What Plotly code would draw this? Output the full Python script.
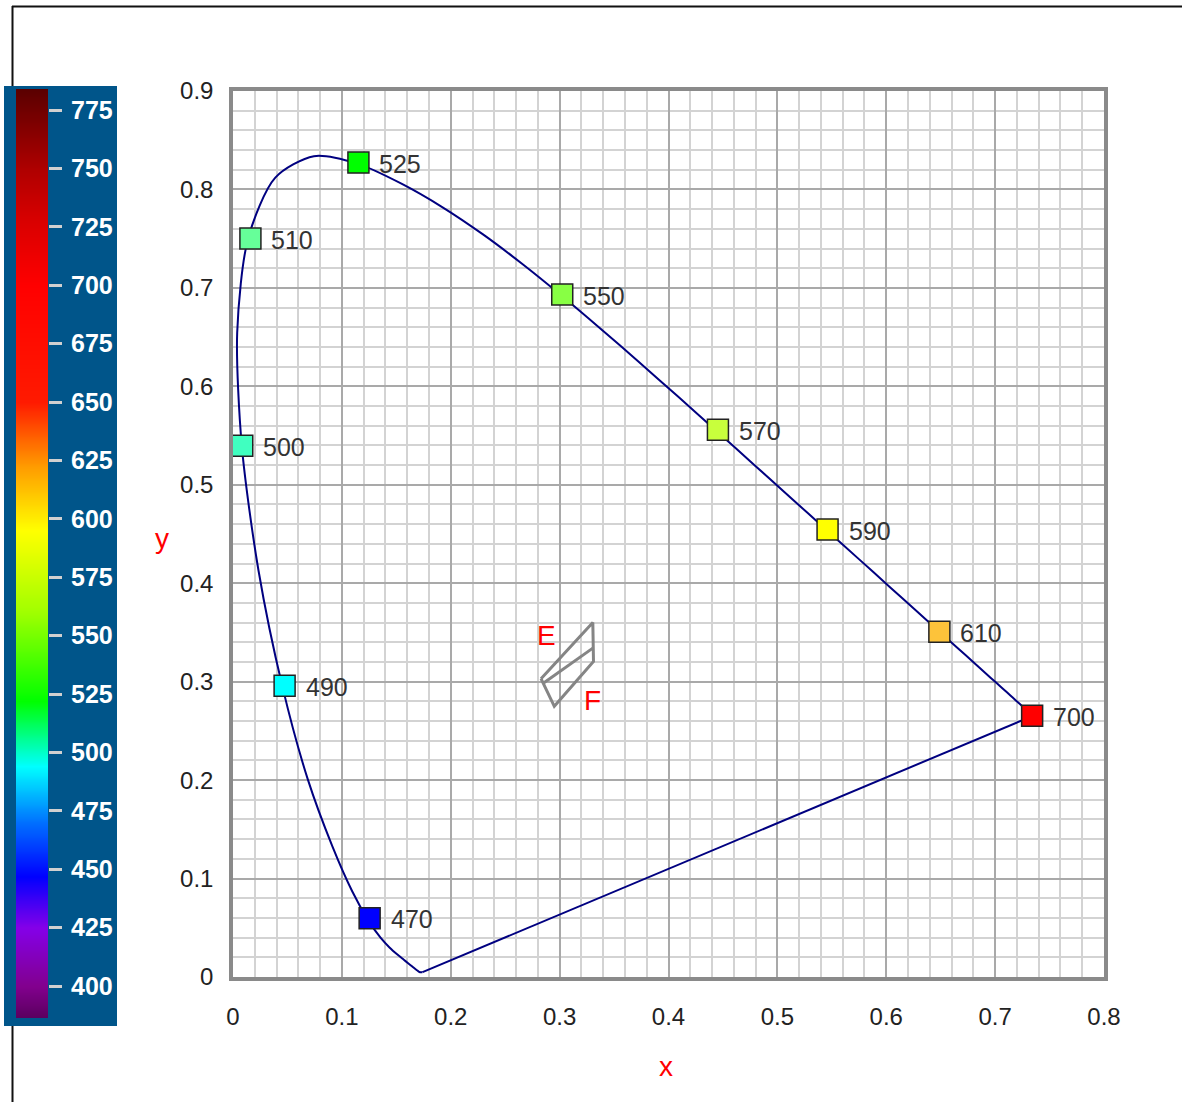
import plotly.graph_objects as go

W, H = 1182, 1102

# ---------------- data ----------------
# CIE 1931 spectral locus, 380-700 nm in 5 nm steps
locus_nm = list(range(380, 701, 5))
locus_x = [0.17411, 0.17401, 0.17380, 0.17356, 0.17334, 0.17302, 0.17258, 0.17209,
           0.17141, 0.17030, 0.16888, 0.16690, 0.16441, 0.16110, 0.15664, 0.15099,
           0.14396, 0.13550, 0.12412, 0.10959, 0.09129, 0.06871, 0.04539, 0.02346,
           0.00817, 0.00386, 0.01387, 0.03885, 0.07430, 0.11416, 0.15472, 0.19288,
           0.22962, 0.26578, 0.30160, 0.33736, 0.37310, 0.40874, 0.44406, 0.47877,
           0.51249, 0.54479, 0.57515, 0.60293, 0.62704, 0.64823, 0.66576, 0.68008,
           0.69150, 0.70061, 0.70792, 0.71403, 0.71903, 0.72303, 0.72599, 0.72827,
           0.72997, 0.73109, 0.73199, 0.73272, 0.73342, 0.73405, 0.73439, 0.73459,
           0.73469]
locus_y = [0.00496, 0.00498, 0.00492, 0.00492, 0.00480, 0.00480, 0.00480, 0.00483,
           0.00510, 0.00579, 0.00690, 0.00856, 0.01086, 0.01379, 0.01771, 0.02274,
           0.02970, 0.03988, 0.05780, 0.08684, 0.13270, 0.20072, 0.29498, 0.41270,
           0.53842, 0.65482, 0.75019, 0.81202, 0.83380, 0.82621, 0.80586, 0.78163,
           0.75433, 0.72432, 0.69231, 0.65885, 0.62445, 0.58961, 0.55471, 0.52020,
           0.48659, 0.45443, 0.42423, 0.39650, 0.37249, 0.35139, 0.33401, 0.31975,
           0.30834, 0.29930, 0.29203, 0.28593, 0.28093, 0.27695, 0.27401, 0.27173,
           0.27003, 0.26891, 0.26801, 0.26728, 0.26658, 0.26595, 0.26561, 0.26541,
           0.26531]

# labelled wavelength markers
mark_nm = [470, 490, 500, 510, 525, 550, 570, 590, 610, 700]
mark_x = [0.1255, 0.0474, 0.0085, 0.0160, 0.1152, 0.3024, 0.4454, 0.5461, 0.6488, 0.7340]
mark_y = [0.0598, 0.2959, 0.5397, 0.7501, 0.8273, 0.6932, 0.5559, 0.4545, 0.3507, 0.2655]
mark_colors = ["#0000ff", "#00ffff", "#40ffc0", "#66ff99", "#00ff00",
               "#88ff44", "#c8ff3c", "#ffff00", "#fdc33a", "#ff0000"]

# E / F bin outline
bin_outline_x = [0.2829, 0.3305, 0.3311, 0.2951, 0.2829]
bin_outline_y = [0.3030, 0.3601, 0.3206, 0.2750, 0.3030]
bin_mid_x = [0.2853, 0.3305]
bin_mid_y = [0.2987, 0.3341]
bin_labels = ["E", "F"]
bin_label_x = [0.2882, 0.3299]
bin_label_y = [0.3471, 0.2807]

# axes
x_ticks = [0, 0.1, 0.2, 0.3, 0.4, 0.5, 0.6, 0.7, 0.8]
x_ticklabels = ["0", "0.1", "0.2", "0.3", "0.4", "0.5", "0.6", "0.7", "0.8"]
y_ticks = [0, 0.1, 0.2, 0.3, 0.4, 0.5, 0.6, 0.7, 0.8, 0.9]
y_ticklabels = ["0", "0.1", "0.2", "0.3", "0.4", "0.5", "0.6", "0.7", "0.8", "0.9"]

# wavelength colour bar
cb_ticks = [400, 425, 450, 475, 500, 525, 550, 575, 600, 625, 650, 675, 700, 725, 750, 775]
cb_range = [386.3, 784.0]
cb_stops_nm = [386, 400, 425, 447, 470, 494, 522, 560, 595, 623, 650, 700, 728, 749, 784]
cb_stops_col = ["#5a005e", "#82008e", "#8400e8", "#0000ff", "#0070ff", "#00ffff",
                "#00ff00", "#a0ff00", "#ffff00", "#ff9900", "#ff1a00", "#ff0000",
                "#d80000", "#b00000", "#5a0000"]

# ---------------- styles ----------------
FONT = "Liberation Sans, Arial, Helvetica, sans-serif"
NARROW = ("Noto Sans ExtraCondensed, Noto Sans Condensed, Liberation Sans Narrow, "
          "Liberation Sans, sans-serif")
CB_BG = "#00558a"


def px_x(p):
    return p / W


def px_y(p):
    return 1 - p / H


fig = go.Figure()

# spectral locus
fig.add_trace(go.Scatter(
    x=locus_x, y=locus_y, mode="lines",
    line=dict(color="#000080", width=2, shape="spline", smoothing=0.8),
    hoverinfo="skip", showlegend=False))
# line of purples
fig.add_trace(go.Scatter(
    x=[locus_x[-1], locus_x[0]], y=[locus_y[-1], locus_y[0]], mode="lines",
    line=dict(color="#000080", width=2), hoverinfo="skip", showlegend=False))

# E/F bins
fig.add_trace(go.Scatter(
    x=bin_outline_x, y=bin_outline_y, mode="lines",
    line=dict(color="#858585", width=3), showlegend=False, hoverinfo="skip"))
fig.add_trace(go.Scatter(
    x=bin_mid_x, y=bin_mid_y, mode="lines",
    line=dict(color="#858585", width=3), showlegend=False, hoverinfo="skip"))

# markers
fig.add_trace(go.Scatter(
    x=mark_x, y=mark_y, mode="markers",
    marker=dict(symbol="square", size=21, color=mark_colors,
                line=dict(color="#222222", width=1.5)),
    text=[str(n) for n in mark_nm], hovertemplate="%{text} nm<extra></extra>",
    showlegend=False))

# colour bar as heatmap in its own axes
lo, hi = cb_range
scale = [[min(max((n - lo) / (hi - lo), 0), 1), c] for n, c in zip(cb_stops_nm, cb_stops_col)]
scale[0][0] = 0
scale[-1][0] = 1
cb_vals = list(range(386, 786, 2))
fig.add_trace(go.Heatmap(
    x=[0, 1], y=cb_vals, z=[[v, v] for v in cb_vals],
    zmin=lo, zmax=hi, colorscale=scale, showscale=False, zsmooth="best",
    xaxis="x2", yaxis="y2", hoverinfo="skip"))

annotations = []
for n, x, y in zip(mark_nm, mark_x, mark_y):
    annotations.append(dict(x=x, y=y, xref="x", yref="y", text=str(n),
                            showarrow=False, xanchor="left", yanchor="middle",
                            xshift=19, yshift=-1,
                            font=dict(size=25, color="#333333", family=FONT)))
for t, x, y in zip(bin_labels, bin_label_x, bin_label_y):
    annotations.append(dict(x=x, y=y, xref="x", yref="y", text=t, showarrow=False,
                            xanchor="center", yanchor="middle",
                            font=dict(size=28, color="#ff0000", family=FONT)))
annotations.append(dict(x=px_x(666), y=px_y(1066), xref="paper", yref="paper", text="x",
                        showarrow=False, xanchor="center", yanchor="middle",
                        font=dict(size=28, color="#ff0000", family=FONT)))
annotations.append(dict(x=px_x(162), y=px_y(538), xref="paper", yref="paper", text="y",
                        showarrow=False, xanchor="center", yanchor="middle",
                        font=dict(size=28, color="#ff0000", family=FONT)))

shapes = [
    # thin outer frame lines
    dict(type="line", xref="paper", yref="paper", x0=px_x(12), y0=px_y(6.5), x1=1, y1=px_y(6.5),
         line=dict(color="#111111", width=2), layer="below"),
    dict(type="line", xref="paper", yref="paper", x0=px_x(12.5), y0=px_y(6), x1=px_x(12.5), y1=0,
         line=dict(color="#111111", width=2), layer="below"),
    # colour bar background panel
    dict(type="rect", xref="paper", yref="paper", x0=px_x(4), x1=px_x(117),
         y0=px_y(1026), y1=px_y(86), fillcolor=CB_BG, line=dict(width=0), layer="below"),
]

grid_major = "#a9a9a9"
grid_minor = "#d3d3d3"
axis_common = dict(
    showline=True, linecolor="#8a8a8a", linewidth=3.5, mirror=True,
    showgrid=True, gridcolor=grid_major, gridwidth=1.5, zeroline=False,
    ticks="", tickfont=dict(size=24, color="#222222", family=FONT),
    fixedrange=True,
)

fig.update_layout(
    template="none",
    width=W, height=H,
    margin=dict(l=0, r=0, t=0, b=0),
    paper_bgcolor="white", plot_bgcolor="white",
    showlegend=False,
    xaxis=dict(domain=[px_x(233), px_x(1104)], range=[0, 0.8], anchor="y",
               tickmode="array", tickvals=x_ticks, ticktext=x_ticklabels,
               ticklabelstandoff=15,
               minor=dict(tickmode="linear", tick0=0, dtick=0.02, showgrid=True,
                          gridcolor=grid_minor, gridwidth=1.5),
               **axis_common),
    yaxis=dict(domain=[px_y(977), px_y(91)], range=[0, 0.9], anchor="x",
               tickmode="array", tickvals=y_ticks, ticktext=y_ticklabels,
               ticklabelstandoff=11,
               minor=dict(tickmode="linear", tick0=0, dtick=0.02, showgrid=True,
                          gridcolor=grid_minor, gridwidth=1.5),
               **axis_common),
    xaxis2=dict(domain=[px_x(16), px_x(48)], range=[0, 1], anchor="y2",
                visible=False, fixedrange=True),
    yaxis2=dict(domain=[px_y(1018), px_y(89)], range=cb_range, anchor="x2",
                side="right", showgrid=False, zeroline=False, showline=False,
                tickmode="array", tickvals=cb_ticks, ticktext=[str(t) for t in cb_ticks],
                ticks="outside", ticklen=13, tickwidth=3, tickcolor="#d0d0d0",
                ticklabelstandoff=4,
                tickfont=dict(size=25, color="white", family=NARROW, weight="bold"),
                fixedrange=True),
    annotations=annotations,
    shapes=shapes,
)

fig.write_html(
    "out.html",
    config={"displayModeBar": False},
    post_script="document.body.style.margin='0';document.body.style.overflow='hidden';",
)
